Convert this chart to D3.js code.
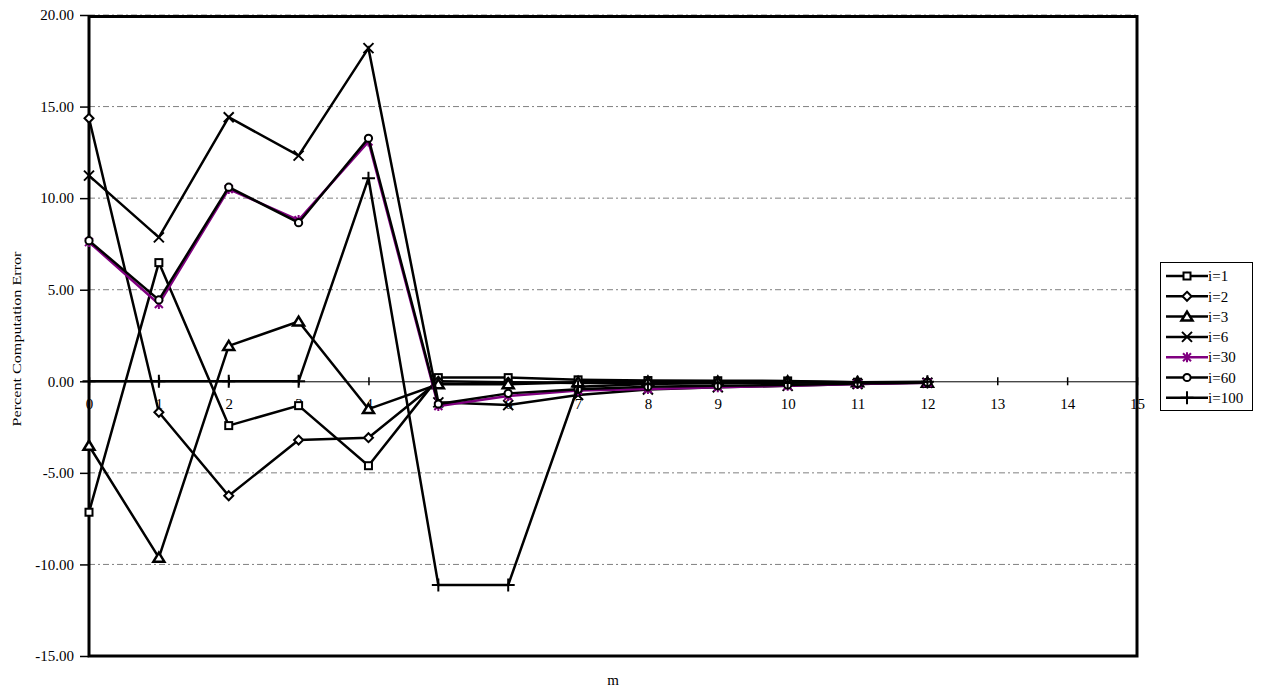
<!DOCTYPE html>
<html>
<head>
<meta charset="utf-8">
<script src="https://cdn.jsdelivr.net/npm/d3@7"></script>
<style>
  body { margin: 0; background: #ffffff; }
  svg { display: block; font-family: "Liberation Serif", "Times New Roman", serif; }
</style>
</head>
<body>
<svg id="chart" width="1263" height="691"></svg>
<script>
// m values along the horizontal axis
const mValues = [0, 1, 2, 3, 4, 5, 6, 7, 8, 9, 10, 11, 12];
const xTickValues = [0, 1, 2, 3, 4, 5, 6, 7, 8, 9, 10, 11, 12, 13, 14, 15];
const yTickValues = [-15, -10, -5, 0, 5, 10, 15, 20];

// percent computation error per series
const errI1   = [-7.15, 6.48, -2.42, -1.33, -4.61, 0.20, 0.20, 0.08, 0.04, 0.03, 0.02, -0.05, -0.08];
const errI2   = [14.36, -1.69, -6.25, -3.21, -3.08, 0.00, -0.05, -0.10, -0.10, -0.10, -0.05, -0.08, -0.08];
const errI3   = [-3.52, -9.63, 1.93, 3.26, -1.52, -0.16, -0.16, -0.05, -0.02, -0.02, -0.01, -0.05, -0.08];
const errI6   = [11.23, 7.86, 14.42, 12.32, 18.19, -1.15, -1.30, -0.75, -0.45, -0.33, -0.25, -0.15, -0.08];
const errI30  = [7.60, 4.22, 10.50, 8.80, 13.09, -1.35, -0.80, -0.50, -0.42, -0.32, -0.25, -0.15, -0.08];
const errI60  = [7.68, 4.44, 10.60, 8.66, 13.27, -1.24, -0.66, -0.44, -0.30, -0.25, -0.20, -0.12, -0.06];
const errI100 = [0.00, 0.00, 0.00, 0.00, 11.09, -11.12, -11.12, -0.30, -0.15, -0.10, -0.08, -0.05, -0.03];

const seriesNames = ["i=1", "i=2", "i=3", "i=6", "i=30", "i=60", "i=100"];
const seriesValues = [errI1, errI2, errI3, errI6, errI30, errI60, errI100];
const seriesMarkers = ["square", "diamond", "triangle", "cross", "star", "circle", "plus"];
const seriesColors = ["#000000", "#000000", "#000000", "#000000", "#800080", "#000000", "#000000"];

const svg = d3.select("#chart");
const plot = { left: 89, top: 15, right: 1137, bottom: 656 };

const x = d3.scaleLinear().domain([0, 15]).range([plot.left, plot.right]);
const y = d3.scaleLinear().domain([-15, 20]).range([plot.bottom, plot.top]);

// horizontal dashed gridlines
svg.append("g")
  .selectAll("line")
  .data(yTickValues.filter(v => v !== 0))
  .join("line")
  .attr("x1", plot.left).attr("x2", plot.right)
  .attr("y1", d => y(d)).attr("y2", d => y(d))
  .attr("stroke", "#808080")
  .attr("stroke-width", 1)
  .attr("stroke-dasharray", "6,3,2,3");

// y axis with two-decimal labels
const yAxis = svg.append("g")
  .attr("transform", `translate(${plot.left},0)`)
  .call(d3.axisLeft(y).tickValues(yTickValues).tickSize(9).tickPadding(6)
        .tickFormat(d => d.toFixed(2)));
yAxis.select(".domain").remove();
yAxis.selectAll(".tick line").attr("stroke", "#000").attr("stroke-width", 1.5);
yAxis.selectAll(".tick text")
  .attr("font-size", 15)
  .attr("font-family", "Liberation Serif, Times New Roman, serif")
  .attr("fill", "#000");

// zero line with crossing tick marks
const xAxis = svg.append("g")
  .attr("transform", `translate(0,${y(0)})`)
  .call(d3.axisBottom(x).tickValues(xTickValues).tickSize(4).tickPadding(0)
        .tickFormat(d3.format("d")));
xAxis.select(".domain").attr("stroke", "#000").attr("stroke-width", 1);
xAxis.selectAll(".tick line").attr("y1", -4).attr("y2", 4).attr("stroke", "#000").attr("stroke-width", 1.5);
xAxis.selectAll(".tick text")
  .attr("y", 28).attr("dy", null)
  .attr("font-size", 15)
  .attr("font-family", "Liberation Serif, Times New Roman, serif")
  .attr("fill", "#000");

// plot frame
svg.append("rect")
  .attr("x", plot.left).attr("y", plot.top + 1.5)
  .attr("width", plot.right - plot.left)
  .attr("height", plot.bottom - plot.top - 1.5)
  .attr("fill", "none")
  .attr("stroke", "#000")
  .attr("stroke-width", 3);

// marker shapes
function drawMarker(g, type, color) {
  const sw = 2;
  switch (type) {
    case "square":
      g.append("rect").attr("x", -3.5).attr("y", -3.5).attr("width", 7).attr("height", 7)
        .attr("fill", "#fff").attr("stroke", color).attr("stroke-width", sw);
      break;
    case "diamond":
      g.append("path").attr("d", "M0,-4.5L4.5,0L0,4.5L-4.5,0Z")
        .attr("fill", "#fff").attr("stroke", color).attr("stroke-width", sw);
      break;
    case "triangle":
      g.append("path").attr("d", "M0,-5L5.5,4L-5.5,4Z")
        .attr("fill", "#fff").attr("stroke", color).attr("stroke-width", 2.5);
      break;
    case "cross":
      g.append("path").attr("d", "M-5,-5L5,5M-5,5L5,-5")
        .attr("fill", "none").attr("stroke", color).attr("stroke-width", sw);
      break;
    case "star":
      g.append("path").attr("d", "M-4,-4L4,4M-4,4L4,-4M0,-5L0,5")
        .attr("fill", "none").attr("stroke", color).attr("stroke-width", sw);
      break;
    case "circle":
      g.append("circle").attr("r", 3.6)
        .attr("fill", "#fff").attr("stroke", color).attr("stroke-width", sw);
      break;
    case "plus":
      g.append("path").attr("d", "M-6.5,0L6.5,0M0,-6.5L0,6.5")
        .attr("fill", "none").attr("stroke", color).attr("stroke-width", sw);
      break;
  }
}

const line = d3.line().x((d, i) => x(mValues[i])).y(d => y(d));

// each series: line then markers, drawn in order
seriesValues.forEach((vals, s) => {
  const g = svg.append("g").attr("class", "series");
  g.append("path")
    .datum(vals)
    .attr("d", line)
    .attr("fill", "none")
    .attr("stroke", seriesColors[s])
    .attr("stroke-width", 2.5)
    .attr("stroke-linejoin", "miter");
  vals.forEach((v, i) => {
    const mg = g.append("g").attr("transform", `translate(${x(mValues[i])},${y(v)})`);
    drawMarker(mg, seriesMarkers[s], seriesColors[s]);
  });
});

// axis titles
svg.append("text")
  .attr("transform", "translate(21,339) rotate(-90)")
  .attr("text-anchor", "middle")
  .attr("font-size", 13)
  .attr("textLength", 175)
  .attr("lengthAdjust", "spacingAndGlyphs")
  .attr("fill", "#000")
  .text("Percent Computation Error");

svg.append("text")
  .attr("x", (plot.left + plot.right) / 2)
  .attr("y", 685)
  .attr("text-anchor", "middle")
  .attr("font-size", 15)
  .attr("fill", "#000")
  .text("m");

// legend
const legend = { x: 1160, y: 262, w: 92, h: 148, rowStart: 276, rowStep: 20.3 };
svg.append("rect")
  .attr("x", legend.x + 0.5).attr("y", legend.y + 0.5)
  .attr("width", legend.w).attr("height", legend.h)
  .attr("fill", "#fff").attr("stroke", "#000").attr("stroke-width", 1);

seriesNames.forEach((name, s) => {
  const ly = legend.rowStart + s * legend.rowStep;
  const g = svg.append("g");
  g.append("line")
    .attr("x1", legend.x + 6).attr("x2", legend.x + 48)
    .attr("y1", ly).attr("y2", ly)
    .attr("stroke", seriesColors[s]).attr("stroke-width", 2.5);
  const mg = g.append("g").attr("transform", `translate(${legend.x + 27},${ly})`);
  drawMarker(mg, seriesMarkers[s], seriesColors[s]);
  g.append("text")
    .attr("x", legend.x + 48).attr("y", ly)
    .attr("dy", "0.35em")
    .attr("font-size", 15)
    .attr("fill", "#000")
    .text(name);
});
</script>
</body>
</html>
